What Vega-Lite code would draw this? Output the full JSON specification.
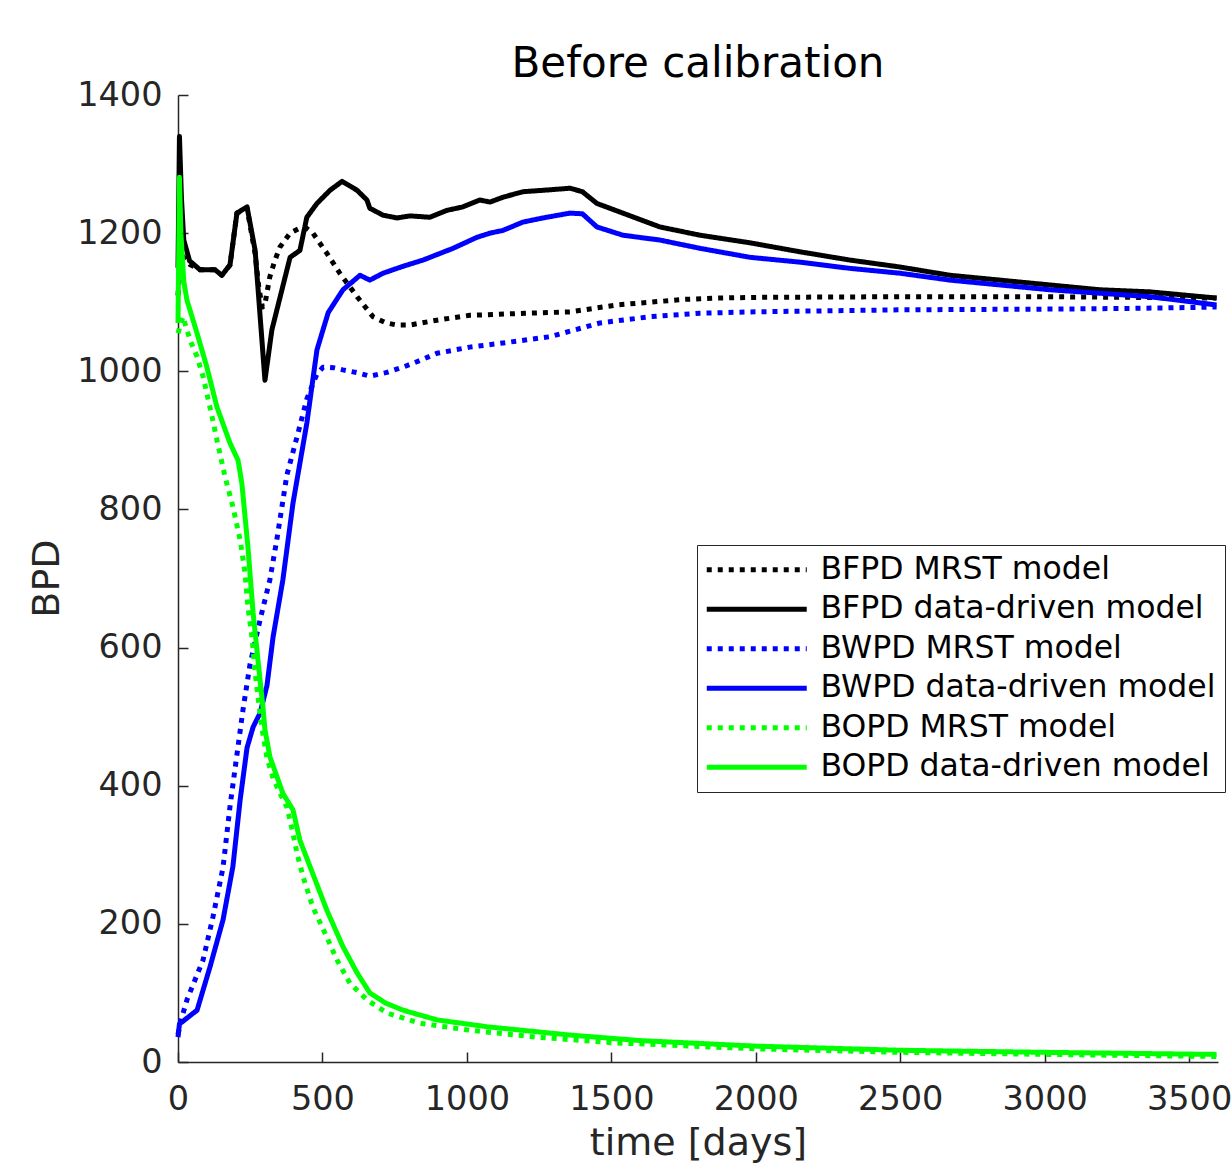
{
  "$schema": "https://vega.github.io/schema/vega-lite/v6.json",
  "width": 1040,
  "height": 967,
  "autosize": "none",
  "padding": {"left": 178, "top": 95, "right": 13, "bottom": 107},
  "background": "white",
  "title": {"text": "Before calibration", "fontSize": 42, "font": "DejaVu Sans", "fontWeight": "normal", "color": "#000000", "anchor": "middle", "frame": "group", "offset": -8},
  "config": {"view": {"stroke": null}},
  "data": {"values": [
    {"series": "BFPD MRST model", "t": 0, "v": 1110},
    {"series": "BFPD MRST model", "t": 10, "v": 1170},
    {"series": "BFPD MRST model", "t": 20, "v": 1165},
    {"series": "BFPD MRST model", "t": 40, "v": 1155},
    {"series": "BFPD MRST model", "t": 76, "v": 1147},
    {"series": "BFPD MRST model", "t": 128, "v": 1147},
    {"series": "BFPD MRST model", "t": 152, "v": 1139},
    {"series": "BFPD MRST model", "t": 180, "v": 1154},
    {"series": "BFPD MRST model", "t": 204, "v": 1229},
    {"series": "BFPD MRST model", "t": 239, "v": 1236},
    {"series": "BFPD MRST model", "t": 267, "v": 1170},
    {"series": "BFPD MRST model", "t": 280, "v": 1120},
    {"series": "BFPD MRST model", "t": 292, "v": 1093},
    {"series": "BFPD MRST model", "t": 300, "v": 1095},
    {"series": "BFPD MRST model", "t": 318, "v": 1137},
    {"series": "BFPD MRST model", "t": 335, "v": 1160},
    {"series": "BFPD MRST model", "t": 353, "v": 1180},
    {"series": "BFPD MRST model", "t": 388, "v": 1200},
    {"series": "BFPD MRST model", "t": 420, "v": 1207},
    {"series": "BFPD MRST model", "t": 445, "v": 1207},
    {"series": "BFPD MRST model", "t": 467, "v": 1200},
    {"series": "BFPD MRST model", "t": 515, "v": 1171},
    {"series": "BFPD MRST model", "t": 560, "v": 1142},
    {"series": "BFPD MRST model", "t": 620, "v": 1108},
    {"series": "BFPD MRST model", "t": 675, "v": 1079},
    {"series": "BFPD MRST model", "t": 720, "v": 1070},
    {"series": "BFPD MRST model", "t": 758, "v": 1067},
    {"series": "BFPD MRST model", "t": 803, "v": 1067},
    {"series": "BFPD MRST model", "t": 896, "v": 1074},
    {"series": "BFPD MRST model", "t": 1010, "v": 1081},
    {"series": "BFPD MRST model", "t": 1200, "v": 1084},
    {"series": "BFPD MRST model", "t": 1357, "v": 1086},
    {"series": "BFPD MRST model", "t": 1519, "v": 1096},
    {"series": "BFPD MRST model", "t": 1634, "v": 1100},
    {"series": "BFPD MRST model", "t": 1749, "v": 1104},
    {"series": "BFPD MRST model", "t": 1865, "v": 1106},
    {"series": "BFPD MRST model", "t": 2000, "v": 1107},
    {"series": "BFPD MRST model", "t": 2500, "v": 1108},
    {"series": "BFPD MRST model", "t": 3000, "v": 1108},
    {"series": "BFPD MRST model", "t": 3300, "v": 1107},
    {"series": "BFPD MRST model", "t": 3595, "v": 1106},

    {"series": "BFPD data-driven model", "t": 0, "v": 1150},
    {"series": "BFPD data-driven model", "t": 5, "v": 1340},
    {"series": "BFPD data-driven model", "t": 12, "v": 1250},
    {"series": "BFPD data-driven model", "t": 20, "v": 1190},
    {"series": "BFPD data-driven model", "t": 40, "v": 1160},
    {"series": "BFPD data-driven model", "t": 76, "v": 1147},
    {"series": "BFPD data-driven model", "t": 128, "v": 1147},
    {"series": "BFPD data-driven model", "t": 152, "v": 1139},
    {"series": "BFPD data-driven model", "t": 180, "v": 1154},
    {"series": "BFPD data-driven model", "t": 204, "v": 1229},
    {"series": "BFPD data-driven model", "t": 239, "v": 1238},
    {"series": "BFPD data-driven model", "t": 267, "v": 1175},
    {"series": "BFPD data-driven model", "t": 301, "v": 987},
    {"series": "BFPD data-driven model", "t": 325, "v": 1060},
    {"series": "BFPD data-driven model", "t": 388, "v": 1165},
    {"series": "BFPD data-driven model", "t": 422, "v": 1175},
    {"series": "BFPD data-driven model", "t": 446, "v": 1223},
    {"series": "BFPD data-driven model", "t": 481, "v": 1243},
    {"series": "BFPD data-driven model", "t": 526, "v": 1262},
    {"series": "BFPD data-driven model", "t": 568, "v": 1275},
    {"series": "BFPD data-driven model", "t": 620, "v": 1262},
    {"series": "BFPD data-driven model", "t": 654, "v": 1248},
    {"series": "BFPD data-driven model", "t": 664, "v": 1236},
    {"series": "BFPD data-driven model", "t": 710, "v": 1226},
    {"series": "BFPD data-driven model", "t": 758, "v": 1222},
    {"series": "BFPD data-driven model", "t": 803, "v": 1225},
    {"series": "BFPD data-driven model", "t": 872, "v": 1223},
    {"series": "BFPD data-driven model", "t": 931, "v": 1233},
    {"series": "BFPD data-driven model", "t": 986, "v": 1238},
    {"series": "BFPD data-driven model", "t": 1045, "v": 1248},
    {"series": "BFPD data-driven model", "t": 1080, "v": 1245},
    {"series": "BFPD data-driven model", "t": 1125, "v": 1252},
    {"series": "BFPD data-driven model", "t": 1194, "v": 1260},
    {"series": "BFPD data-driven model", "t": 1263, "v": 1262},
    {"series": "BFPD data-driven model", "t": 1357, "v": 1265},
    {"series": "BFPD data-driven model", "t": 1400, "v": 1260},
    {"series": "BFPD data-driven model", "t": 1450, "v": 1243},
    {"series": "BFPD data-driven model", "t": 1540, "v": 1229},
    {"series": "BFPD data-driven model", "t": 1668, "v": 1209},
    {"series": "BFPD data-driven model", "t": 1807, "v": 1197},
    {"series": "BFPD data-driven model", "t": 1980, "v": 1186},
    {"series": "BFPD data-driven model", "t": 2153, "v": 1173},
    {"series": "BFPD data-driven model", "t": 2326, "v": 1161},
    {"series": "BFPD data-driven model", "t": 2499, "v": 1151},
    {"series": "BFPD data-driven model", "t": 2672, "v": 1139},
    {"series": "BFPD data-driven model", "t": 2845, "v": 1132},
    {"series": "BFPD data-driven model", "t": 3018, "v": 1125},
    {"series": "BFPD data-driven model", "t": 3191, "v": 1118},
    {"series": "BFPD data-driven model", "t": 3364, "v": 1115},
    {"series": "BFPD data-driven model", "t": 3595, "v": 1106},

    {"series": "BWPD MRST model", "t": 0, "v": 40},
    {"series": "BWPD MRST model", "t": 10, "v": 60},
    {"series": "BWPD MRST model", "t": 31, "v": 90},
    {"series": "BWPD MRST model", "t": 87, "v": 148},
    {"series": "BWPD MRST model", "t": 121, "v": 210},
    {"series": "BWPD MRST model", "t": 156, "v": 282},
    {"series": "BWPD MRST model", "t": 180, "v": 370},
    {"series": "BWPD MRST model", "t": 204, "v": 445},
    {"series": "BWPD MRST model", "t": 225, "v": 510},
    {"series": "BWPD MRST model", "t": 249, "v": 575},
    {"series": "BWPD MRST model", "t": 284, "v": 640},
    {"series": "BWPD MRST model", "t": 318, "v": 698},
    {"series": "BWPD MRST model", "t": 342, "v": 756},
    {"series": "BWPD MRST model", "t": 377, "v": 850},
    {"series": "BWPD MRST model", "t": 412, "v": 905},
    {"series": "BWPD MRST model", "t": 446, "v": 960},
    {"series": "BWPD MRST model", "t": 480, "v": 995},
    {"series": "BWPD MRST model", "t": 502, "v": 1006},
    {"series": "BWPD MRST model", "t": 540, "v": 1005},
    {"series": "BWPD MRST model", "t": 571, "v": 1002},
    {"series": "BWPD MRST model", "t": 620, "v": 998},
    {"series": "BWPD MRST model", "t": 664, "v": 993},
    {"series": "BWPD MRST model", "t": 720, "v": 998},
    {"series": "BWPD MRST model", "t": 779, "v": 1006},
    {"series": "BWPD MRST model", "t": 840, "v": 1016},
    {"series": "BWPD MRST model", "t": 896, "v": 1026},
    {"series": "BWPD MRST model", "t": 1010, "v": 1035},
    {"series": "BWPD MRST model", "t": 1125, "v": 1041},
    {"series": "BWPD MRST model", "t": 1287, "v": 1050},
    {"series": "BWPD MRST model", "t": 1461, "v": 1070},
    {"series": "BWPD MRST model", "t": 1634, "v": 1079},
    {"series": "BWPD MRST model", "t": 1807, "v": 1084},
    {"series": "BWPD MRST model", "t": 1980, "v": 1086},
    {"series": "BWPD MRST model", "t": 2153, "v": 1087},
    {"series": "BWPD MRST model", "t": 2500, "v": 1089},
    {"series": "BWPD MRST model", "t": 3000, "v": 1090},
    {"series": "BWPD MRST model", "t": 3300, "v": 1091},
    {"series": "BWPD MRST model", "t": 3595, "v": 1093},

    {"series": "BWPD data-driven model", "t": 0, "v": 36},
    {"series": "BWPD data-driven model", "t": 5, "v": 55},
    {"series": "BWPD data-driven model", "t": 66, "v": 75},
    {"series": "BWPD data-driven model", "t": 111, "v": 138},
    {"series": "BWPD data-driven model", "t": 156, "v": 206},
    {"series": "BWPD data-driven model", "t": 190, "v": 283},
    {"series": "BWPD data-driven model", "t": 215, "v": 379},
    {"series": "BWPD data-driven model", "t": 239, "v": 455},
    {"series": "BWPD data-driven model", "t": 260, "v": 485},
    {"series": "BWPD data-driven model", "t": 284, "v": 505},
    {"series": "BWPD data-driven model", "t": 308, "v": 545},
    {"series": "BWPD data-driven model", "t": 329, "v": 615},
    {"series": "BWPD data-driven model", "t": 363, "v": 698},
    {"series": "BWPD data-driven model", "t": 398, "v": 809},
    {"series": "BWPD data-driven model", "t": 446, "v": 925},
    {"series": "BWPD data-driven model", "t": 481, "v": 1031},
    {"series": "BWPD data-driven model", "t": 520, "v": 1085},
    {"series": "BWPD data-driven model", "t": 571, "v": 1118},
    {"series": "BWPD data-driven model", "t": 630, "v": 1139},
    {"series": "BWPD data-driven model", "t": 664, "v": 1132},
    {"series": "BWPD data-driven model", "t": 710, "v": 1142},
    {"series": "BWPD data-driven model", "t": 779, "v": 1152},
    {"series": "BWPD data-driven model", "t": 848, "v": 1161},
    {"series": "BWPD data-driven model", "t": 952, "v": 1178},
    {"series": "BWPD data-driven model", "t": 1035, "v": 1194},
    {"series": "BWPD data-driven model", "t": 1080, "v": 1200},
    {"series": "BWPD data-driven model", "t": 1125, "v": 1204},
    {"series": "BWPD data-driven model", "t": 1194, "v": 1216},
    {"series": "BWPD data-driven model", "t": 1263, "v": 1222},
    {"series": "BWPD data-driven model", "t": 1357, "v": 1229},
    {"series": "BWPD data-driven model", "t": 1400, "v": 1228},
    {"series": "BWPD data-driven model", "t": 1450, "v": 1209},
    {"series": "BWPD data-driven model", "t": 1540, "v": 1197},
    {"series": "BWPD data-driven model", "t": 1668, "v": 1190},
    {"series": "BWPD data-driven model", "t": 1807, "v": 1178},
    {"series": "BWPD data-driven model", "t": 1980, "v": 1165},
    {"series": "BWPD data-driven model", "t": 2153, "v": 1158},
    {"series": "BWPD data-driven model", "t": 2326, "v": 1149},
    {"series": "BWPD data-driven model", "t": 2499, "v": 1142},
    {"series": "BWPD data-driven model", "t": 2672, "v": 1132},
    {"series": "BWPD data-driven model", "t": 2845, "v": 1125},
    {"series": "BWPD data-driven model", "t": 3018, "v": 1118},
    {"series": "BWPD data-driven model", "t": 3191, "v": 1113},
    {"series": "BWPD data-driven model", "t": 3364, "v": 1108},
    {"series": "BWPD data-driven model", "t": 3595, "v": 1096},

    {"series": "BOPD MRST model", "t": 0, "v": 1055},
    {"series": "BOPD MRST model", "t": 17, "v": 1079},
    {"series": "BOPD MRST model", "t": 42, "v": 1045},
    {"series": "BOPD MRST model", "t": 66, "v": 1021},
    {"series": "BOPD MRST model", "t": 87, "v": 992},
    {"series": "BOPD MRST model", "t": 118, "v": 934},
    {"series": "BOPD MRST model", "t": 135, "v": 900},
    {"series": "BOPD MRST model", "t": 163, "v": 847},
    {"series": "BOPD MRST model", "t": 190, "v": 804},
    {"series": "BOPD MRST model", "t": 215, "v": 756},
    {"series": "BOPD MRST model", "t": 232, "v": 708},
    {"series": "BOPD MRST model", "t": 242, "v": 659},
    {"series": "BOPD MRST model", "t": 256, "v": 615},
    {"series": "BOPD MRST model", "t": 266, "v": 568},
    {"series": "BOPD MRST model", "t": 277, "v": 528},
    {"series": "BOPD MRST model", "t": 290, "v": 485},
    {"series": "BOPD MRST model", "t": 308, "v": 440},
    {"series": "BOPD MRST model", "t": 330, "v": 410},
    {"series": "BOPD MRST model", "t": 353, "v": 389},
    {"series": "BOPD MRST model", "t": 377, "v": 369},
    {"series": "BOPD MRST model", "t": 398, "v": 331},
    {"series": "BOPD MRST model", "t": 412, "v": 302},
    {"series": "BOPD MRST model", "t": 433, "v": 268},
    {"series": "BOPD MRST model", "t": 467, "v": 224},
    {"series": "BOPD MRST model", "t": 515, "v": 181},
    {"series": "BOPD MRST model", "t": 550, "v": 148},
    {"series": "BOPD MRST model", "t": 595, "v": 114},
    {"series": "BOPD MRST model", "t": 654, "v": 90},
    {"series": "BOPD MRST model", "t": 723, "v": 71},
    {"series": "BOPD MRST model", "t": 838, "v": 56},
    {"series": "BOPD MRST model", "t": 1010, "v": 46},
    {"series": "BOPD MRST model", "t": 1242, "v": 36},
    {"series": "BOPD MRST model", "t": 1500, "v": 28},
    {"series": "BOPD MRST model", "t": 2000, "v": 19},
    {"series": "BOPD MRST model", "t": 2500, "v": 14},
    {"series": "BOPD MRST model", "t": 3000, "v": 11},
    {"series": "BOPD MRST model", "t": 3595, "v": 8},

    {"series": "BOPD data-driven model", "t": 0, "v": 1070},
    {"series": "BOPD data-driven model", "t": 5, "v": 1281},
    {"series": "BOPD data-driven model", "t": 10, "v": 1200},
    {"series": "BOPD data-driven model", "t": 20, "v": 1130},
    {"series": "BOPD data-driven model", "t": 31, "v": 1103},
    {"series": "BOPD data-driven model", "t": 66, "v": 1055},
    {"series": "BOPD data-driven model", "t": 100, "v": 1006},
    {"series": "BOPD data-driven model", "t": 135, "v": 948},
    {"series": "BOPD data-driven model", "t": 180, "v": 896},
    {"series": "BOPD data-driven model", "t": 208, "v": 871},
    {"series": "BOPD data-driven model", "t": 221, "v": 838},
    {"series": "BOPD data-driven model", "t": 242, "v": 746},
    {"series": "BOPD data-driven model", "t": 260, "v": 650},
    {"series": "BOPD data-driven model", "t": 284, "v": 553},
    {"series": "BOPD data-driven model", "t": 294, "v": 514},
    {"series": "BOPD data-driven model", "t": 301, "v": 481},
    {"series": "BOPD data-driven model", "t": 318, "v": 442},
    {"series": "BOPD data-driven model", "t": 363, "v": 389},
    {"series": "BOPD data-driven model", "t": 398, "v": 365},
    {"series": "BOPD data-driven model", "t": 422, "v": 321},
    {"series": "BOPD data-driven model", "t": 457, "v": 283},
    {"series": "BOPD data-driven model", "t": 515, "v": 220},
    {"series": "BOPD data-driven model", "t": 571, "v": 167},
    {"series": "BOPD data-driven model", "t": 620, "v": 129},
    {"series": "BOPD data-driven model", "t": 664, "v": 100},
    {"series": "BOPD data-driven model", "t": 720, "v": 85},
    {"series": "BOPD data-driven model", "t": 779, "v": 75},
    {"series": "BOPD data-driven model", "t": 896, "v": 61},
    {"series": "BOPD data-driven model", "t": 1070, "v": 51},
    {"series": "BOPD data-driven model", "t": 1357, "v": 39},
    {"series": "BOPD data-driven model", "t": 1600, "v": 31},
    {"series": "BOPD data-driven model", "t": 2000, "v": 23},
    {"series": "BOPD data-driven model", "t": 2500, "v": 17},
    {"series": "BOPD data-driven model", "t": 3000, "v": 14},
    {"series": "BOPD data-driven model", "t": 3595, "v": 11}
  ]},
  "mark": {"type": "line", "strokeWidth": 5, "strokeCap": "butt", "strokeJoin": "round"},
  "encoding": {
    "x": {"field": "t", "type": "quantitative",
      "scale": {"domain": [0, 3600], "nice": false, "zero": false},
      "axis": {"title": "time [days]", "values": [0, 500, 1000, 1500, 2000, 2500, 3000, 3500], "format": "d", "labelFlush": false,
        "grid": false, "tickSize": -10, "tickColor": "#262626", "tickWidth": 1.5,
        "domainColor": "#262626", "domainWidth": 1.5,
        "labelFont": "DejaVu Sans", "labelFontSize": 33.5, "labelColor": "#262626",
        "labelBaseline": "alphabetic", "labelPadding": 57,
        "titleFont": "DejaVu Sans", "titleFontSize": 38, "titleFontWeight": "normal", "titleColor": "#262626",
        "titleX": 520, "titleY": 92, "titleBaseline": "alphabetic", "titleAlign": "center"}},
    "y": {"field": "v", "type": "quantitative",
      "scale": {"domain": [0, 1400], "nice": false, "zero": false},
      "axis": {"title": "BPD", "values": [0, 200, 400, 600, 800, 1000, 1200, 1400], "format": "d", "labelFlush": false,
        "grid": false, "tickSize": -10, "tickColor": "#262626", "tickWidth": 1.5,
        "domainColor": "#262626", "domainWidth": 1.5,
        "labelFont": "DejaVu Sans", "labelFontSize": 33.5, "labelColor": "#262626",
        "labelPadding": 26,
        "titleFont": "DejaVu Sans", "titleFontSize": 38, "titleFontWeight": "normal", "titleColor": "#262626",
        "titleX": -120, "titleY": 483, "titleAngle": -90, "titleBaseline": "alphabetic", "titleAlign": "center"}},
    "color": {"field": "series", "type": "nominal",
      "scale": {"domain": ["BFPD MRST model", "BFPD data-driven model", "BWPD MRST model", "BWPD data-driven model", "BOPD MRST model", "BOPD data-driven model"],
        "range": ["#000000", "#000000", "#0000ff", "#0000ff", "#00ff00", "#00ff00"]},
      "legend": {"title": null, "orient": "none", "legendX": 519, "legendY": 450,
        "symbolType": "M-3,0H17", "symbolSize": 100, "symbolStrokeWidth": 5,
        "labelFont": "DejaVu Sans", "labelFontSize": 31.5, "labelColor": "#000000", "labelLimit": 600, "labelOffset": 83,
        "rowPadding": 6.5, "padding": 9, "strokeColor": "#262626", "fillColor": "#ffffff"}},
    "strokeDash": {"field": "series", "type": "nominal",
      "scale": {"domain": ["BFPD MRST model", "BFPD data-driven model", "BWPD MRST model", "BWPD data-driven model", "BOPD MRST model", "BOPD data-driven model"],
        "range": [[5, 6], [1, 0], [5, 6], [1, 0], [5, 6], [1, 0]]}}
  }
}
